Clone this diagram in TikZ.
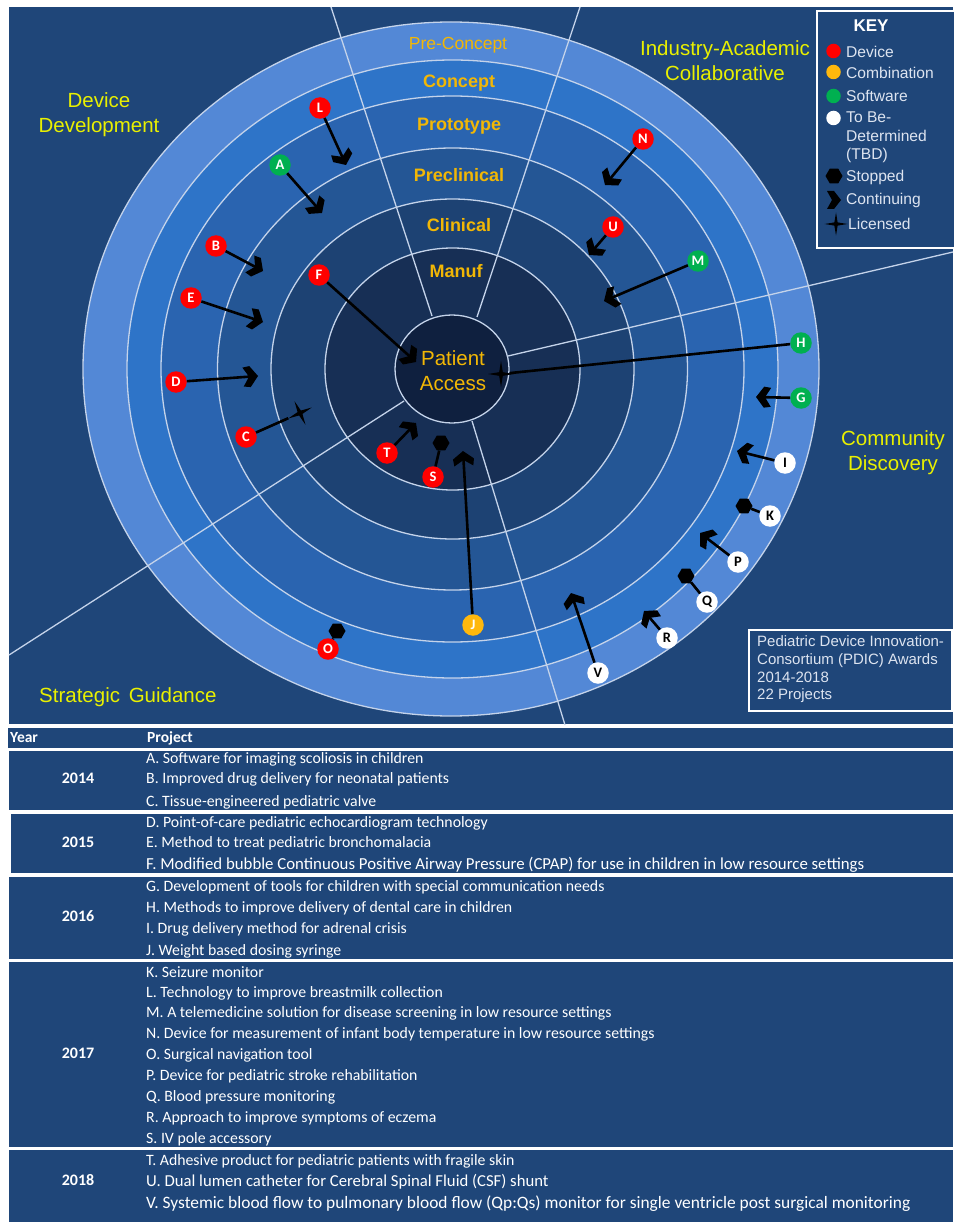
\documentclass[tikz,border=0pt]{standalone}
\usepackage{fontspec}
\usetikzlibrary{arrows.meta,shapes.geometric}
\setmainfont{Liberation Sans}
\newfontfamily\carlito{Carlito}
\definecolor{panel}{HTML}{1F4679}
\definecolor{ringA}{HTML}{5388D6}
\definecolor{ringB}{HTML}{2E74C8}
\definecolor{ringC}{HTML}{2A64B0}
\definecolor{ringD}{HTML}{245695}
\definecolor{ringE}{HTML}{1D4273}
\definecolor{ringF}{HTML}{172F55}
\definecolor{ringG}{HTML}{0F203F}
\definecolor{ringline}{HTML}{C4D3EA}
\definecolor{stagegold}{HTML}{F2B705}
\definecolor{sectyellow}{HTML}{E9F000}
\definecolor{devred}{HTML}{FF0000}
\definecolor{combgold}{HTML}{FFB80D}
\definecolor{softgreen}{HTML}{00B050}
\definecolor{keytext}{HTML}{DDE4F0}
\pgfdeclarearrow{
  name=Chevron,
  setup code={\pgfarrowssettipend{0pt}\pgfarrowssetlineend{-8pt}\pgfarrowssetbackend{-15pt}\pgfarrowssetvisualbackend{-8pt}},
  drawing code={
    \pgfpathmoveto{\pgfpoint{0pt}{0pt}}
    \pgfpathlineto{\pgfpoint{-8pt}{10.5pt}}
    \pgfpathlineto{\pgfpoint{-15pt}{9.5pt}}
    \pgfpathlineto{\pgfpoint{-9pt}{0pt}}
    \pgfpathlineto{\pgfpoint{-15pt}{-9.5pt}}
    \pgfpathlineto{\pgfpoint{-8pt}{-10.5pt}}
    \pgfpathclose
    \pgfusepathqfill
  },
}
\tikzset{
  x=1pt,y=-1pt,
  ring/.style={draw=ringline,line width=1.3pt},
  spoke/.style={draw=ringline,line width=1.3pt},
  stage/.style={text=stagegold,font=\fontsize{18}{20}\selectfont\bfseries,inner sep=0pt,text height=13pt,text depth=4pt,yshift=-2pt},
  sect/.style={text=sectyellow,font=\fontsize{20.5}{25}\selectfont,inner sep=0pt,align=center},
  badge/.style={circle,minimum size=21.5pt,inner sep=0pt,text=white,font=\carlito\fontsize{14.5}{14.5}\selectfont\bfseries},
  dev/.style={badge,fill=devred},
  comb/.style={badge,fill=combgold},
  soft/.style={badge,fill=softgreen},
  tbd/.style={badge,fill=white,text=black},
  stopmark/.style={regular polygon,regular polygon sides=6,fill=black,minimum size=17pt,inner sep=0pt},
  licmark/.style={star,star points=4,star point ratio=5,fill=black,minimum size=26pt,inner sep=0pt},
  cont/.style={line width=2.6pt,-Chevron},
  link/.style={line width=2.6pt},
  keydot/.style={circle,minimum size=14.5pt,inner sep=0pt},
  keytxt/.style={anchor=west,inner sep=0pt,text=keytext,font=\fontsize{15.6}{18}\selectfont},
  band/.style={fill=panel,draw=none},
  rowtxt/.style={anchor=west,inner sep=0pt,text=white,yshift=-1.5pt},
  yeartxt/.style={inner sep=0pt,text=white,font=\carlito\fontsize{16}{18}\selectfont\bfseries},
}
\begin{document}
\begin{tikzpicture}
\useasboundingbox (0,0) rectangle (953,1222);
\fill[white] (0,0) rectangle (953,1222);
% main panel
\fill[panel] (9,7) rectangle (953,724);
% rings
\draw[ring,fill=ringA] (451,369) ellipse [x radius=368,y radius=347];
\draw[ring,fill=ringB] (452.5,369) ellipse [x radius=325.5,y radius=309];
\draw[ring,fill=ringC] (452.5,369) ellipse [x radius=291.5,y radius=273];
\draw[ring,fill=ringD] (452.5,369) ellipse [x radius=235,y radius=221];
\draw[ring,fill=ringE] (452.5,369) ellipse [x radius=181.5,y radius=170];
\draw[ring,fill=ringF] (452.5,369) ellipse [x radius=127.5,y radius=121];
% spokes
\coordinate (sa0) at (432,316); \coordinate (sa1) at (331,7);
\coordinate (sb0) at (477,317); \coordinate (sb1) at (580,7);
\coordinate (sc0) at (508,356); \coordinate (sc1) at (953,252);
\coordinate (sd0) at (404,401); \coordinate (sd1) at (9,655);
\coordinate (se0) at (472,421); \coordinate (se1) at (565,725);
\draw[spoke] (sa0) -- (sa1);
\draw[spoke] (sb0) -- (sb1);
\draw[spoke] (sc0) -- (sc1);
\draw[spoke] (sd0) -- (sd1);
\draw[spoke] (se0) -- (se1);
\draw[ring,fill=ringG] (452,369) ellipse [x radius=57,y radius=54];
% stage labels
\node[stage,font=\fontsize{17.5}{20}\selectfont] (preconcept) at (458,43) {Pre-Concept};
\node[stage] (concept) at (459,81) {Concept};
\node[stage] (prototype) at (459,124) {Prototype};
\node[stage] (preclinical) at (459,175) {Preclinical};
\node[stage] (clinical) at (459,225) {Clinical};
\node[stage] (manuf) at (456,271) {Manuf};
\node[inner sep=0pt,text=stagegold,align=center,font=\fontsize{20.5}{25}\selectfont] (access) at (453,371) {Patient\\Access};
% section labels
\node[sect] (s1) at (99,114.5) {Device\\Development};
\node[sect] (s2) at (725,60.5) {Industry-Academic\\Collaborative};
\node[sect] (s3) at (893,452.5) {Community\\Discovery};
\node[sect,anchor=west] (s4) at (39,697) {Strategic\hspace{3pt} Guidance};
% head coordinates
\coordinate (hL) at (346,165);
\coordinate (hA) at (322,213);
\coordinate (hB) at (263,271);
\coordinate (hE) at (263,322);
\coordinate (hF) at (416,362);
\coordinate (hD) at (258,376);
\coordinate (hT) at (416,423);
\coordinate (hJ) at (463,451);
\coordinate (hN) at (605,185);
\coordinate (hU) at (589,255);
\coordinate (hM) at (604,301);
\coordinate (hG) at (756,397);
\coordinate (hI) at (737,451);
\coordinate (hP) at (700,533);
\coordinate (hR) at (644,611);
\coordinate (hV) at (571,593);
% stopped and licensed marks
\node[stopmark] (xS) at (441,443) {};
\node[stopmark] (xO) at (337,631) {};
\node[stopmark] (xK) at (744,506) {};
\node[stopmark] (xQ) at (686,576) {};
\node[licmark,rotate=25] (xC) at (300,413) {};
\node[licmark] (xH) at (501,374) {};
% badges
\node[dev] (L) at (320,108) {L};
\node[soft] (A) at (280,165) {A};
\node[dev] (B) at (216,246) {B};
\node[dev] (E) at (191,298) {E};
\node[dev] (F) at (319,275) {F};
\node[dev] (D) at (176,382) {D};
\node[dev] (C) at (246,437) {C};
\node[dev] (T) at (387,453) {T};
\node[dev] (S) at (433,477) {S};
\node[comb] (J) at (473,625) {J};
\node[dev] (O) at (328,649) {O};
\node[dev] (N) at (643,139) {N};
\node[dev] (U) at (613,227) {U};
\node[soft] (M) at (698,261) {M};
\node[soft] (H) at (801,343) {H};
\node[soft] (G) at (801,398) {G};
\node[tbd] (I) at (785,463) {I};
\node[tbd] (K) at (770,516) {K};
\node[tbd] (P) at (738,562) {P};
\node[tbd] (Q) at (707,602) {Q};
\node[tbd] (R) at (667,638) {R};
\node[tbd] (V) at (598,673) {V};
% connectors
\foreach \a in {L,A,B,E,F,D,T,J,N,U,M,G,I,P,R,V}{
  \draw[cont] (\a) -- (h\a);
}
\draw[link] (S) -- (xS);
\draw[link] (O) -- (xO);
\draw[link] (K) -- (xK);
\draw[link] (Q) -- (xQ);
\draw[link] (C) -- (xC);
\draw[link] (H) -- (xH);
% key
\draw[white,line width=2.5pt,fill=panel] (817,11) rectangle (956,248);
\node[inner sep=0pt,text=white,font=\fontsize{17}{20}\selectfont\bfseries] (keytitle) at (871,26) {KEY};
\node[keydot,fill=devred] (k1) at (833.5,51) {};
\node[keytxt] (k1t) at (846,52) {Device};
\node[keydot,fill=combgold] (k2) at (833.5,72) {};
\node[keytxt] (k2t) at (846,72.5) {Combination};
\node[keydot,fill=softgreen] (k3) at (833.5,96) {};
\node[keytxt] (k3t) at (846,96) {Software};
\node[keydot,fill=white] (k4) at (833.5,118) {};
\node[keytxt,align=left,font=\fontsize{15.6}{18.2}\selectfont,anchor=north west] (k4t) at (846,112) {To Be-\\Determined\\(TBD)};
\node[stopmark,minimum size=17pt] (k5) at (834,176) {};
\node[keytxt] (k5t) at (846,177) {Stopped};
\fill[black] (827,191) -- (834,191) -- (841,200) -- (834,209) -- (827,209) -- (832,200) -- cycle;
\node[keytxt] (k6t) at (846,200.5) {Continuing};
\node[licmark,minimum size=23pt] (k7) at (836,224) {};
\node[keytxt] (k7t) at (848,224) {Licensed};
% awards box
\draw[white,line width=2pt,fill=panel] (748.5,629.5) rectangle (951.5,710.5);
\node[keytxt,align=left,anchor=north west,font=\fontsize{15}{17.8}\selectfont] (award) at (757,635.5) {Pediatric Device Innovation-\\Consortium (PDIC) Awards\\2014-2018\\22 Projects};
% table bands
\fill[band] (8,728) rectangle (953,748);
\fill[band] (9,751) rectangle (953,810);
\fill[band] (10.5,813.5) rectangle (953,873);
\fill[band] (9,876.5) rectangle (953,958.5);
\fill[band] (9,961.5) rectangle (953,1146.5);
\fill[band] (9,1149.5) rectangle (953,1222);
\node[rowtxt,font=\carlito\fontsize{15.5}{18}\selectfont\bfseries] (yearhead) at (10,736.5) {Year};
\node[rowtxt,font=\carlito\fontsize{15.5}{18}\selectfont\bfseries] (projhead) at (147,736.5) {Project};
\node[yeartxt] (y14) at (78,778) {2014};
\node[yeartxt] (y15) at (78,842) {2015};
\node[yeartxt] (y16) at (78,916) {2016};
\node[yeartxt] (y17) at (78,1053.5) {2017};
\node[yeartxt] (y18) at (78,1180) {2018};
\foreach \nm/\yy/\sz/\tx in {
 ra/758/15.8/{A. Software for imaging scoliosis in children},
 rb/778/15.8/{B. Improved drug delivery for neonatal patients},
 rc/801/15.8/{C. Tissue-engineered pediatric valve},
 rd/822/15.8/{D. Point-of-care pediatric echocardiogram technology},
 re/842/15.8/{E. Method to treat pediatric bronchomalacia},
 rf/863/16.8/{F. Modified bubble Continuous Positive Airway Pressure (CPAP) for use in children in low resource settings},
 rg/886/15.8/{G. Development of tools for children with special communication needs},
 rh/907/15.8/{H. Methods to improve delivery of dental care in children},
 ri/928/15.8/{I. Drug delivery method for adrenal crisis},
 rj/949.5/15.8/{J. Weight based dosing syringe},
 rk/971/15.8/{K. Seizure monitor},
 rl/991.5/15.8/{L. Technology to improve breastmilk collection},
 rm/1012/15.8/{M. A telemedicine solution for disease screening in low resource settings},
 rn/1033/15.8/{N. Device for measurement of infant body temperature in low resource settings},
 ro/1054/15.8/{O. Surgical navigation tool},
 rp/1075/15.8/{P. Device for pediatric stroke rehabilitation},
 rq/1096/15.8/{Q. Blood pressure monitoring},
 rr/1116.5/15.8/{R. Approach to improve symptoms of eczema},
 rs/1138/15.8/{S. IV pole accessory},
 rt/1160/15.8/{T. Adhesive product for pediatric patients with fragile skin},
 ru/1180.5/16.7/{U. Dual lumen catheter for Cerebral Spinal Fluid (CSF) shunt},
 rv/1202.5/17.4/{V. Systemic blood flow to pulmonary blood flow (Qp:Qs) monitor for single ventricle post surgical monitoring}}{
  \node[rowtxt,font=\carlito\fontsize{\sz}{18}\selectfont] (\nm) at (146,\yy) {\tx};
}
\end{tikzpicture}
\end{document}
